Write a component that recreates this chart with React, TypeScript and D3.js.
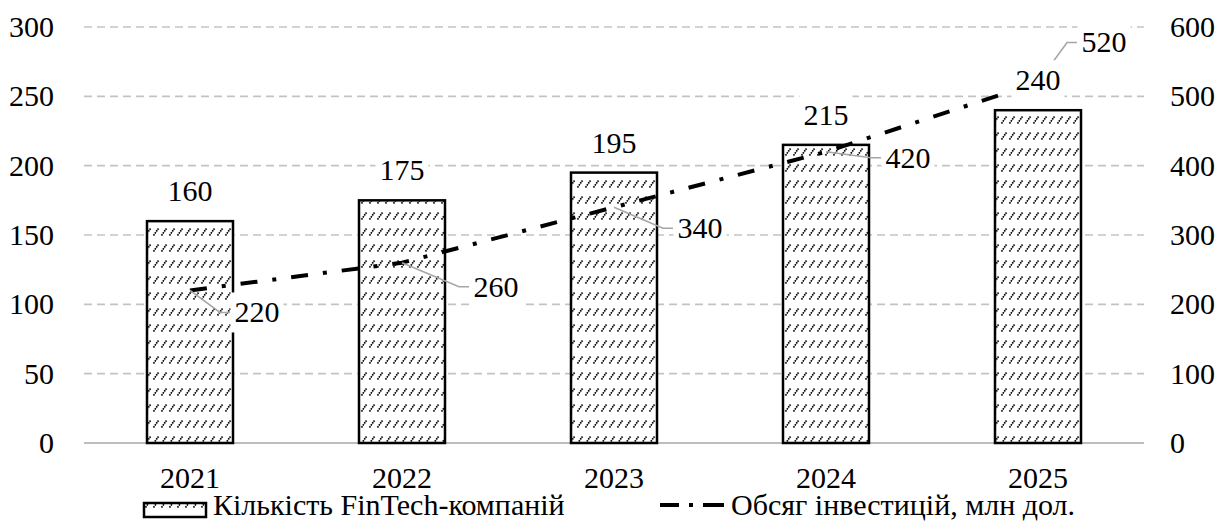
import React from 'react';
import * as d3 from 'd3';

// chart data
const years = ['2021', '2022', '2023', '2024', '2025'];
const companies = [160, 175, 195, 215, 240];
const investments = [220, 260, 340, 420, 520];
const leftTicks = [0, 50, 100, 150, 200, 250, 300];
const rightTicks = [0, 100, 200, 300, 400, 500, 600];
const legendLabels = ['Кількість FinTech-компаній', 'Обсяг інвестицій, млн дол.'];

// where the line labels sit relative to their point (px)
const lineLabelOffsets = [[67, 22], [94, 24], [86, 21], [82, 6], [66, -40]];

const W = 1231;
const H = 528;
const FONT = "'Liberation Serif', 'Times New Roman', Times, serif";
const FS = 30;

const App = () => {
    var x = d3.scaleBand().domain(years).range([84, 1144]);
    var yL = d3.scaleLinear().domain([0, 300]).range([443, 27]);
    var yR = d3.scaleLinear().domain([0, 600]).range([443, 27]);
    var barW = 86;
    var cx = (d) => x(d) + x.bandwidth() / 2;

    var line = d3.line()
        .x((d, i) => cx(years[i]))
        .y((d) => yR(d));

    var labelBox = (mx, my, txt) => {
        var w = txt.length * 15 + 8;
        return <rect x={mx - w / 2} y={my - 20} width={w} height={40} fill="#fff" />;
    };

    return (
        <svg width={W} height={H} style={{ position: 'absolute', left: 0, top: 0, fontFamily: FONT, fontSize: FS }}>
            <defs>
                <pattern id="hatch" width={8} height={16} patternUnits="userSpaceOnUse">
                    <rect width={8} height={16} fill="#fff" />
                    <path d="M1.5,11.5 L6.5,4.5" stroke="#000" strokeWidth={1.7} strokeDasharray="1.6 0.8" />
                </pattern>
            </defs>
            <rect width={W} height={H} fill="#fff" />

            {/* grid */}
            {leftTicks.filter(t => t > 0).map(t => (
                <line key={'g' + t} x1={84} x2={1144} y1={yL(t)} y2={yL(t)}
                    stroke="#c3c3c3" strokeWidth={1.6} strokeDasharray="8 5" />
            ))}
            <line x1={84} x2={1144} y1={yL(0)} y2={yL(0)} stroke="#bdbdbd" strokeWidth={2} />

            {/* axis labels */}
            {leftTicks.map(t => (
                <text key={'l' + t} x={54} y={yL(t) + 10} textAnchor="end">{t}</text>
            ))}
            {rightTicks.map(t => (
                <text key={'r' + t} x={1170} y={yR(t) + 10} textAnchor="start">{t}</text>
            ))}
            {years.map(y => (
                <text key={'x' + y} x={cx(y)} y={488} textAnchor="middle">{y}</text>
            ))}

            {/* bars */}
            {companies.map((v, i) => (
                <rect key={'b' + i} x={cx(years[i]) - barW / 2} y={yL(v)} width={barW}
                    height={yL(0) - yL(v)} fill="url(#hatch)" stroke="#000" strokeWidth={2.5} />
            ))}

            {/* investments line */}
            <path d={line(investments)} fill="none" stroke="#000" strokeWidth={4}
                strokeDasharray="17 15 4 15" />

            {/* leader lines */}
            {investments.map((v, i) => {
                var px = cx(years[i]);
                var py = yR(v);
                var lx = px + lineLabelOffsets[i][0] - 27;
                var ly = py + lineLabelOffsets[i][1];
                return (
                    <path key={'ld' + i} d={`M${px},${py}L${lx - 10},${ly}L${lx},${ly}`}
                        fill="none" stroke="#a6a6a6" strokeWidth={1.6} />
                );
            })}

            {/* bar labels */}
            {companies.map((v, i) => {
                var mx = cx(years[i]);
                var my = yL(v) - 30;
                return (
                    <g key={'bl' + i}>
                        {labelBox(mx, my, String(v))}
                        <text x={mx} y={my + 10} textAnchor="middle">{v}</text>
                    </g>
                );
            })}

            {/* line labels */}
            {investments.map((v, i) => {
                var mx = cx(years[i]) + lineLabelOffsets[i][0];
                var my = yR(v) + lineLabelOffsets[i][1];
                return (
                    <g key={'ll' + i}>
                        {labelBox(mx, my, String(v))}
                        <text x={mx} y={my + 10} textAnchor="middle">{v}</text>
                    </g>
                );
            })}

            {/* legend */}
            <rect x={144} y={503} width={62} height={14} fill="url(#hatch)" stroke="#000" strokeWidth={2.5} />
            <text x={213} y={515}>{legendLabels[0]}</text>
            <path d="M660,505L724,505" stroke="#000" strokeWidth={4} strokeDasharray="19 10 4 10 21" />
            <text x={731} y={515}>{legendLabels[1]}</text>
        </svg>
    );
};

export default App;
